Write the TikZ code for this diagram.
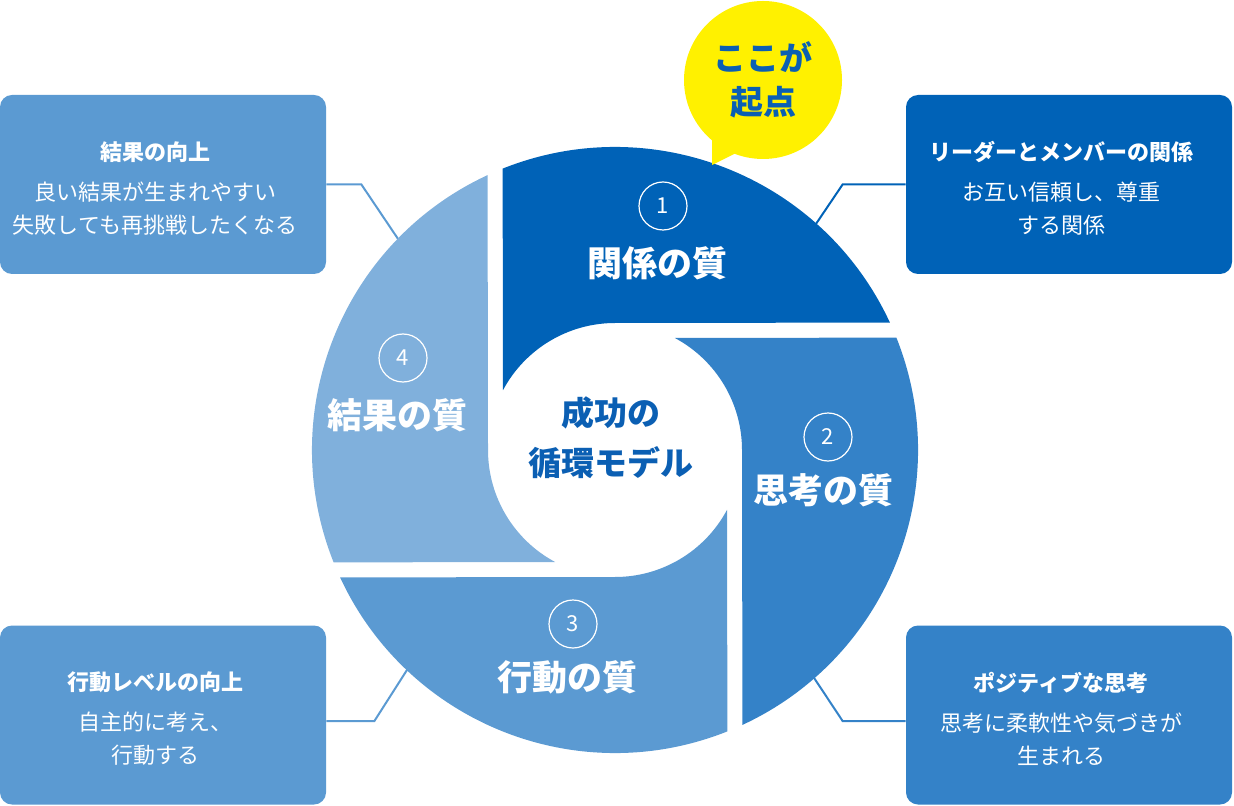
\documentclass[tikz,border=0pt]{standalone}
\usepackage{fontspec}
\setmainfont{Noto Sans CJK JP}
\usetikzlibrary{positioning}
\usetikzlibrary{calc}

\definecolor{azul1}{HTML}{0062B7}
\definecolor{azul2}{HTML}{3482C8}
\definecolor{azul3}{HTML}{5B9AD2}
\definecolor{azul4}{HTML}{80B0DC}
\definecolor{amarillo}{HTML}{FFF100}
\definecolor{textoazul}{HTML}{0B5FB3}

\begin{document}
\begin{tikzpicture}[
        x=0.5pt, y=-0.5pt,
        every node/.style={font=\fontsize{11}{16.5}\selectfont},
        caja/.style={rounded corners=6pt, minimum width=163pt, minimum height=89.5pt,
            inner sep=0pt},
        textocaja/.style={text=white, align=center, inner sep=0pt},
        numero/.style={circle, draw=white, line width=0.6pt, minimum size=24pt,
            inner sep=0pt, text=white, font=\fontsize{11}{12}\selectfont},
        calidad/.style={text=white, font=\fontsize{17.5}{20}\selectfont\bfseries},
        conector/.style={line width=1pt}
    ]

        % Marco
        \useasboundingbox (0,0) rectangle (1234,806);
        \coordinate (C) at (615,450);

        % Cajas de texto
        \node[caja, fill=azul1] (b1) at (1069,184.5) {};
        \node[caja, fill=azul2] (b2) at (1069,715) {};
        \node[caja, fill=azul3] (b3) at (163,715) {};
        \node[caja, fill=azul3] (b4) at (163,184.5) {};
        \node[textocaja] (t1) at ([xshift=-4pt,yshift=-2pt]b1.center)
            {\textbf{リーダーとメンバーの関係}\\[3.5pt]お互い信頼し、尊重\\する関係};
        \node[textocaja] (t2) at ([xshift=-4pt,yshift=-2pt]b2.center)
            {\textbf{ポジティブな思考}\\[3.5pt]思考に柔軟性や気づきが\\生まれる};
        \node[textocaja] (t3) at ([xshift=-4pt,yshift=-2pt]b3.center)
            {\textbf{行動レベルの向上}\\[3.5pt]自主的に考え、\\行動する};
        \node[textocaja] (t4) at ([xshift=-4pt,yshift=-2pt]b4.center)
            {\textbf{結果の向上}\\[3.5pt]良い結果が生まれやすい\\失敗しても再挑戦したくなる};

        % Conectores
        \coordinate (e1) at ($(C)+(-48.3:300)$);
        \coordinate (e2) at ($(C)+(48.8:300)$);
        \coordinate (e3) at ($(C)+(133.5:300)$);
        \coordinate (e4) at ($(C)+(-135.9:300)$);
        \draw[conector, azul1] (b1.west) -- ++(-63,0) -- (e1);
        \draw[conector, azul2] ([yshift=-3pt]b2.west) -- ++(-63,0) -- (e2);
        \draw[conector, azul3] ([yshift=-3pt]b3.east) -- ++(48,0) -- (e3);
        \draw[conector, azul3] (b4.east) -- ++(35,0) -- (e4);

        % Anillo en cuatro partes
        \foreach \ang/\col in {0/azul1, -90/azul2, -180/azul3, -270/azul4} {
            \begin{scope}[shift={(C)}, rotate=\ang]
                \fill[\col] (-111.77:303) arc[start angle=-111.77, end angle=-24.87, radius=303]
                    -- (0,-127) arc[start angle=-90, end angle=-151.9, radius=127] -- cycle;
            \end{scope}
        }

        % Bocadillo
        \fill[amarillo] (763,80) circle (39.5pt);
        \fill[amarillo] (712,130) -- (712,165) -- (742,150) -- cycle;
        \node[text=textoazul, align=center, font=\fontsize{16.5}{22}\selectfont\bfseries]
            (bocadillo) at (763,80) {ここが\\起点};

        % Centro
        \node[text=textoazul, align=center, font=\fontsize{16.5}{25}\selectfont\bfseries]
            (centro) at (611,438) {成功の\\循環モデル};

        % Numeros y etiquetas
        \node[numero] (n1) at (663,206) {1};
        \node[numero] (n2) at (828,437) {2};
        \node[numero] (n3) at (573,624) {3};
        \node[numero] (n4) at (403,358) {4};
        \node[calidad] (q1) at (657,263) {関係の質};
        \node[calidad] (q2) at (823,490) {思考の質};
        \node[calidad] (q3) at (567,677) {行動の質};
        \node[calidad] (q4) at (397,415) {結果の質};

    \end{tikzpicture}
\end{document}
